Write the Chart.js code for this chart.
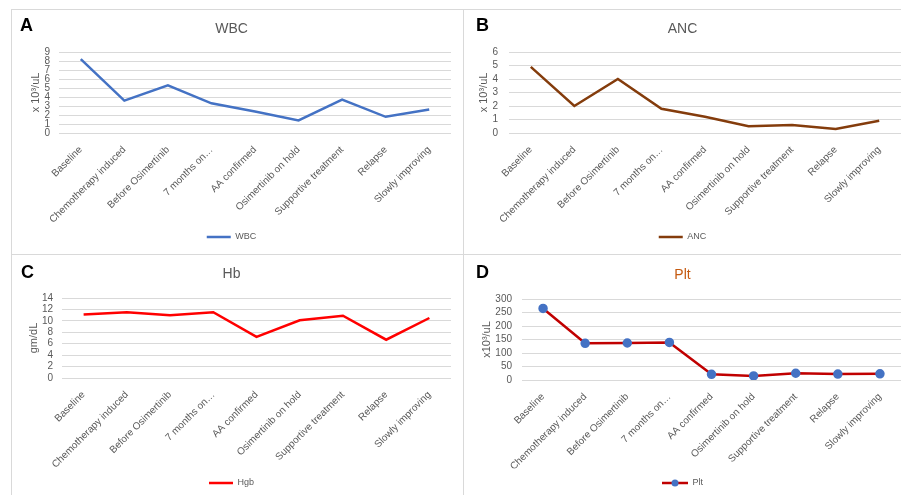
<!DOCTYPE html>
<html>
<head>
<meta charset="utf-8">
<script src="https://cdn.jsdelivr.net/npm/chart.js@4.4.1/dist/chart.umd.min.js"></script>
<style>
    html, body { margin: 0; padding: 0; background: #fff; }
    body { width: 901px; height: 495px; overflow: hidden; position: relative; font-family: "Liberation Sans", Arial, sans-serif; }
    .panel { position: absolute; border-left: 1px solid #d9d9d9; border-top: 1px solid #d9d9d9; }
    .letter { position: absolute; font-weight: bold; font-size: 18px; line-height: 18px; color: #000; }
    canvas { position: absolute; }
</style>
</head>
<body>
<div class="panel" style="left:11px; top:9px; width:452px; height:245px;"></div>
<div class="panel" style="left:463px; top:9px; width:450px; height:245px;"></div>
<div class="panel" style="left:11px; top:254px; width:452px; height:260px;"></div>
<div class="panel" style="left:463px; top:254px; width:450px; height:260px;"></div>

<canvas id="wbcChart" width="450" height="244" style="left:12px; top:10px;"></canvas>
<canvas id="ancChart" width="437" height="244" style="left:464px; top:10px;"></canvas>
<canvas id="hgbChart" width="450" height="250" style="left:12px; top:255px;"></canvas>
<canvas id="pltChart" width="437" height="250" style="left:464px; top:255px;"></canvas>

<div class="letter" style="left:20px; top:16px;">A</div>
<div class="letter" style="left:476px; top:16px;">B</div>
<div class="letter" style="left:21px; top:263px;">C</div>
<div class="letter" style="left:476px; top:263px;">D</div>

<script>
// categories shared by all four panels
const categories = ["Baseline", "Chemotherapy induced", "Before Osimertinib", "7 months on…", "AA confirmed",
    "Osimertinib on hold", "Supportive treatment", "Relapse", "Slowly improving"];

// series values
const wbcValues = [8.2, 3.6, 5.3, 3.3, 2.4, 1.4, 3.7, 1.8, 2.6];
const ancValues = [4.9, 2.0, 4.0, 1.8, 1.2, 0.5, 0.6, 0.3, 0.9];
const hgbValues = [11.1, 11.5, 11.0, 11.5, 7.2, 10.1, 10.9, 6.7, 10.5];
const pltValues = [265, 136, 137, 139, 21, 15, 25, 22, 23];

// y axis ranges
const wbcAxis = { min: 0, max: 9, step: 1 };
const ancAxis = { min: 0, max: 6, step: 1 };
const hgbAxis = { min: 0, max: 14, step: 2 };
const pltAxis = { min: 0, max: 300, step: 50 };

const FONT = "'Liberation Sans', Arial, sans-serif";
const GREY = "#595959";

// legend icon for Plt: line with a dot in the middle
function makePltIcon() {
    const c = document.createElement("canvas");
    c.width = 26;
    c.height = 10;
    const g = c.getContext("2d");
    g.strokeStyle = "#C00000";
    g.lineWidth = 2.5;
    g.beginPath();
    g.moveTo(0, 5);
    g.lineTo(26, 5);
    g.stroke();
    g.fillStyle = "#4472C4";
    g.beginPath();
    g.arc(13, 5, 3.5, 0, Math.PI * 2);
    g.fill();
    return c;
}

function makeChart(id, o) {
    const ctx = document.getElementById(id).getContext("2d");
    return new Chart(ctx, {
        type: "line",
        data: {
            labels: categories,
            datasets: [{
                label: o.label,
                data: o.values,
                borderColor: o.color,
                backgroundColor: o.pointColor || o.color,
                borderWidth: 2.5,
                pointRadius: o.pointColor ? 3.5 : 0,
                pointBackgroundColor: o.pointColor,
                pointBorderColor: o.pointColor,
                tension: 0,
                fill: false
            }]
        },
        options: {
            responsive: false,
            animation: false,
            layout: { autoPadding: false, padding: { left: 0, top: 0, right: o.padRight, bottom: o.padBottom } },
            plugins: {
                title: {
                    display: true,
                    text: o.title,
                    color: o.titleColor || GREY,
                    font: { family: FONT, size: 14, weight: "normal" },
                    padding: { top: o.titleTop, bottom: o.titleBottom }
                },
                legend: {
                    position: "bottom",
                    labels: {
                        color: GREY,
                        font: { family: FONT, size: 9 },
                        usePointStyle: true,
                        pointStyle: o.legendIcon || "line",
                        pointStyleWidth: o.legendIcon ? 26 : 24,
                        padding: 10
                    }
                },
                tooltip: { enabled: false }
            },
            scales: {
                x: {
                    offset: true,
                    grid: { display: false, drawTicks: false },
                    border: { display: false },
                    ticks: {
                        color: GREY,
                        font: { family: FONT, size: 10 },
                        minRotation: 45,
                        maxRotation: 45,
                        padding: 11,
                        autoSkip: false
                    },
                    afterFit: s => { s.height = o.xHeight; }
                },
                y: {
                    min: o.axis.min,
                    max: o.axis.max,
                    grid: { color: "#d9d9d9", lineWidth: 1, drawTicks: false },
                    border: { display: false },
                    ticks: {
                        stepSize: o.axis.step,
                        autoSkip: false,
                        color: GREY,
                        font: { family: FONT, size: 10 },
                        padding: o.tickPad
                    },
                    title: {
                        display: true,
                        text: o.yTitle,
                        color: GREY,
                        font: { family: FONT, size: 11 },
                        padding: { top: o.yTitleTop, bottom: 0 }
                    },
                    afterFit: s => { s.width = o.yWidth; }
                }
            }
        }
    });
}

document.addEventListener("DOMContentLoaded", function () {
    makeChart("wbcChart", {
        label: "WBC", title: "WBC", values: wbcValues, color: "#4472C4", axis: wbcAxis,
        yTitle: "x 10³/uL", yWidth: 47, tickPad: 9, yTitleTop: 17.4,
        titleTop: 10.6, titleBottom: 14.6, padRight: 11, padBottom: 2.5, xHeight: 89.5
    });

    makeChart("ancChart", {
        label: "ANC", title: "ANC", values: ancValues, color: "#843C0C", axis: ancAxis,
        yTitle: "x 10³/uL", yWidth: 45, tickPad: 11, yTitleTop: 13.4,
        titleTop: 10.6, titleBottom: 14.6, padRight: 0, padBottom: 2.5, xHeight: 89.5
    });

    makeChart("hgbChart", {
        label: "Hgb", title: "Hb", values: hgbValues, color: "#FF0000", axis: hgbAxis,
        yTitle: "gm/dL", yWidth: 50, tickPad: 9, yTitleTop: 15.4,
        titleTop: 10.6, titleBottom: 15.6, padRight: 11, padBottom: 7.5, xHeight: 90.5
    });

    makeChart("pltChart", {
        label: "Plt", title: "Plt", values: pltValues, color: "#C00000", pointColor: "#4472C4",
        titleColor: "#C55A11", axis: pltAxis, legendIcon: makePltIcon(),
        yTitle: "x10³/uL", yWidth: 58, tickPad: 10, yTitleTop: 16.4,
        titleTop: 11.6, titleBottom: 15.6, padRight: 0, padBottom: 7.5, xHeight: 88.5
    });
});
</script>
</body>
</html>
